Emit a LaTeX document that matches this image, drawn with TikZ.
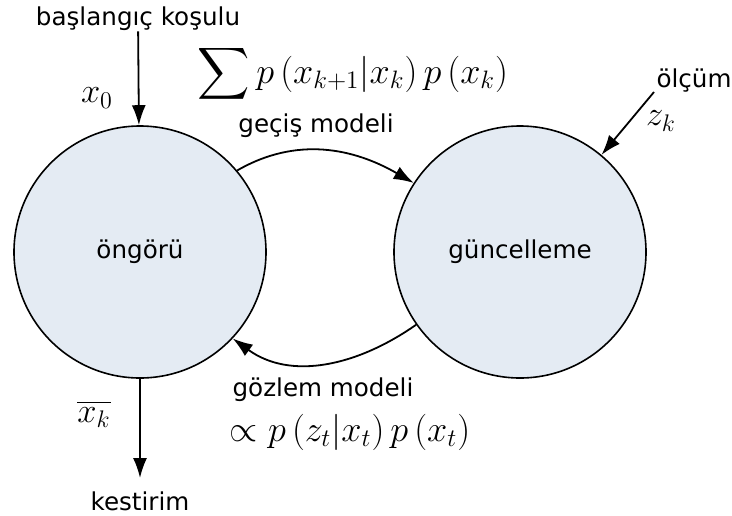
\documentclass[tikz,border=0pt]{standalone}
\usepackage{amsmath,amssymb}
\usepackage{fontspec}
\setsansfont{DejaVu Sans}
\usetikzlibrary{arrows.meta}
\definecolor{stateblue}{RGB}{228,235,243}

\begin{document}
\begin{tikzpicture}[x=0.5pt,y=-0.5pt,
  state/.style={circle,draw,line width=0.8pt,fill=stateblue,minimum size=126pt,inner sep=0pt,
    font=\sffamily\fontsize{12.3}{14}\selectfont},
  lbl/.style={inner sep=0pt,font=\sffamily\fontsize{12.3}{14}\selectfont},
  eqn/.style={inner sep=0pt,font=\LARGE},
  flow/.style={line width=0.9pt,-{Latex[length=10pt,width=7pt]}}]
\useasboundingbox (0,0) rectangle (732,515);
\node[state] (pred) at (140,252) {öngörü};
\node[state] (upd) at (520,252) {güncelleme};
\node[lbl] (init) at (138,19) {başlangıç koşulu};
\node[lbl] (meas) at (694,81) {ölçüm};
\node[lbl] (est) at (140,501) {kestirim};
\node[lbl] (trans) at (316,126) {geçiş modeli};
\node[lbl] (obs) at (323,390) {gözlem modeli};
\node[eqn] (x0) at (97,98) {$x_0$};
\node[eqn] (zk) at (661,121) {$z_k$};
\node[eqn] (xk) at (94,414) {$\overline{x_k}$};
\node[eqn] (sumeq) at (353,74) {\scalebox{1.05}{$\displaystyle\sum p\left(x_{k+1}\middle|x_k\right)p\left(x_k\right)$}};
\node[eqn] (propeq) at (350,432) {\scalebox{1.05}{$\propto p\left(z_t\middle|x_t\right)p\left(x_t\right)$}};
\coordinate (mstart) at (654,92);
\coordinate (eend) at (140,478);
\draw[flow] (init) -- (pred);
\draw[flow] (mstart) -- (upd.50);
\draw[flow] (pred) -- (eend);
\draw[flow] (pred.40) to[out=30,in=150] (upd.147);
\draw[flow] (upd.215) to[out=215,in=-36] (pred.-43);
\end{tikzpicture}
\end{document}
